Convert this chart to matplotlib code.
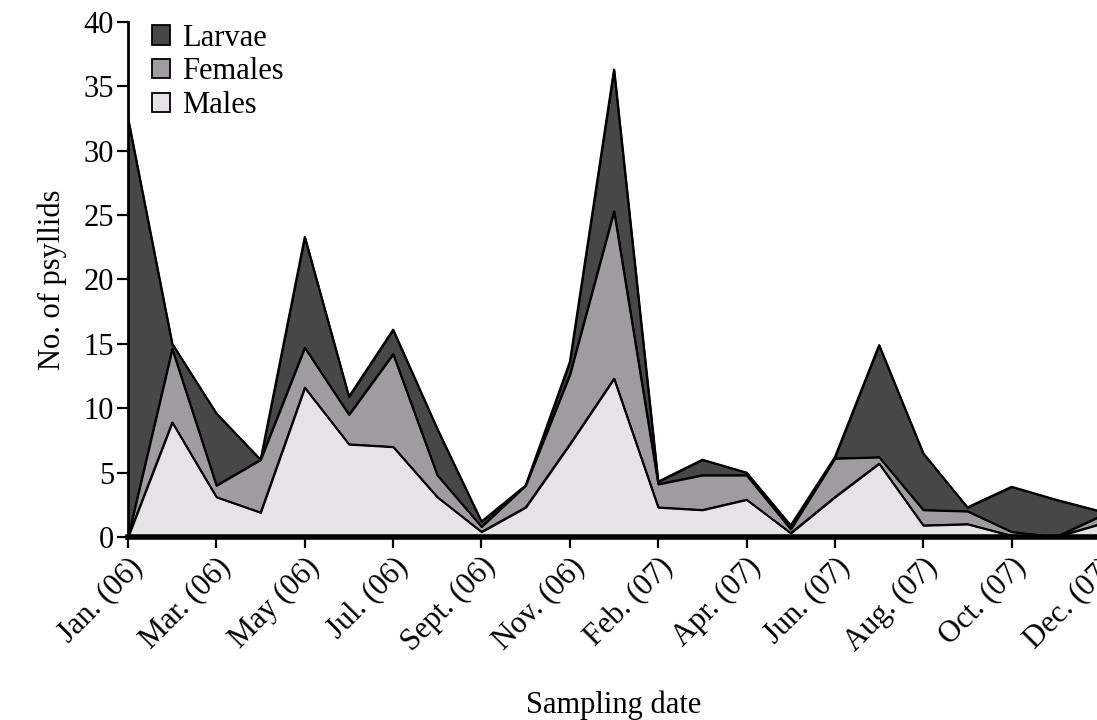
import numpy as np
import matplotlib
matplotlib.use("Agg")
import matplotlib.pyplot as plt
from matplotlib.patches import Patch

# psyllid counts per sampling date, Jan 2006 .. Dec 2007 (23 samplings)
males = [0, 8.9, 3.1, 1.9, 11.6, 7.2, 7.0, 3.1, 0.4, 2.3, 7.2, 12.3,
         2.3, 2.1, 2.9, 0.3, 3.1, 5.7, 0.9, 1.0, 0.1, 0.0, 1.0]
females = [0, 5.7, 0.9, 4.1, 3.1, 2.3, 7.2, 1.7, 0.4, 1.7, 5.4, 13.0,
           1.8, 2.7, 1.9, 0.3, 3.0, 0.5, 1.2, 1.0, 0.3, 0.0, 0.6]
larvae = [32.5, 0.4, 5.6, 0.0, 8.6, 1.4, 1.9, 3.6, 0.4, 0.0, 1.0, 11.0,
          0.2, 1.2, 0.2, 0.3, 0.1, 8.7, 4.4, 0.3, 3.5, 2.9, 0.4]
tick_labels = ["Jan. (06)", "Mar. (06)", "May (06)", "Jul. (06)", "Sept. (06)",
               "Nov. (06)", "Feb. (07)", "Apr. (07)", "Jun. (07)", "Aug. (07)",
               "Oct. (07)", "Dec. (07)"]

plt.rcParams['font.family'] = ['Liberation Serif', 'DejaVu Serif']

c_m, c_f, c_l = "#e6e3e6", "#9e9c9f", "#474747"
fs = 22

fig = plt.figure(figsize=(10.97, 7.2), dpi=100)
ax = fig.add_axes([0.1167, 0.2542, 0.886, 0.7153])

x = np.arange(len(males))
m = np.array(males)
f = m + np.array(females)
l = f + np.array(larvae)

ax.fill_between(x, 0, m, facecolor=c_m, edgecolor="black", lw=1.3, zorder=3)
ax.fill_between(x, m, f, facecolor=c_f, edgecolor="black", lw=1.3, zorder=2)
ax.fill_between(x, f, l, facecolor=c_l, edgecolor="black", lw=1.3, zorder=1)
ax.plot(x, l, color="black", lw=1.5, zorder=4)
ax.plot(x, f, color="black", lw=1.3, zorder=4)
ax.plot(x, m, color="black", lw=1.3, zorder=4)

ax.set_xlim(0, len(males) - 1)
ax.set_ylim(0, 40)
ax.set_yticks(np.arange(0, 41, 5))
ax.set_xticks(x[::2])
ax.set_xticklabels(tick_labels, rotation=45, ha="right", rotation_mode="anchor")

for s in ["top", "right"]:
    ax.spines[s].set_visible(False)
ax.spines["left"].set_linewidth(2)
ax.spines["bottom"].set_linewidth(4)
ax.spines["bottom"].set_zorder(6)
ax.tick_params(axis="both", direction="out", length=8, width=1.6, labelsize=fs, pad=3)
ax.tick_params(axis="y", pad=2)

ax.set_xlabel("Sampling date", fontsize=fs, labelpad=24)
ax.set_ylabel("No. of psyllids", fontsize=fs, labelpad=12)

handles = [Patch(facecolor=c_l, edgecolor="black", lw=1.3, label="Larvae"),
           Patch(facecolor=c_f, edgecolor="black", lw=1.3, label="Females"),
           Patch(facecolor=c_m, edgecolor="black", lw=1.3, label="Males")]
ax.legend(handles=handles, loc="upper left", bbox_to_anchor=(0.012, 1.02), frameon=False,
          fontsize=fs, handlelength=0.6, handleheight=0.6, handletextpad=0.4,
          labelspacing=0.15, borderaxespad=0)

fig.savefig("out.png", dpi=100)
